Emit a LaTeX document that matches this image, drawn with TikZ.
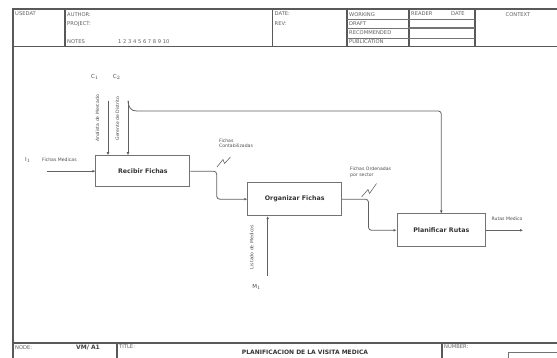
\documentclass[tikz,border=0pt]{standalone}
\usepackage{fontspec}
\setmainfont{DejaVu Sans}
\usetikzlibrary{positioning,arrows.meta}

\begin{document}
\begin{tikzpicture}[x=1pt,y=-1pt,
    frameline/.style={draw=black!65, line width=1.6pt},
    rowline/.style={draw=black!55, line width=0.8pt},
    hdr/.style={font=\fontsize{5.2}{6}\selectfont, text=black!62, inner sep=0pt, anchor=north west},
    activity/.style={draw=black!55, line width=0.9pt, minimum height=32pt, inner sep=0pt,
        font=\fontsize{6.3}{7}\selectfont\bfseries, text=black!80},
    flow/.style={draw=black!62, line width=0.8pt, rounded corners=3pt, -{Latex[length=3pt,width=2.8pt]}},
    lbl/.style={font=\fontsize{4.6}{5.6}\selectfont, text=black!70, inner sep=0pt, align=left},
    tag/.style={font=\fontsize{5.5}{6}\selectfont, text=black!70, inner sep=0pt},
    squig/.style={draw=black!60, line width=0.6pt}
]
\useasboundingbox (0,0) rectangle (557,358);

% frame and header
\draw[frameline] (557,9.3) -- (13,9.3) -- (13,358);
\draw[frameline] (13,46.7) -- (557,46.7);
\draw[frameline] (13,343) -- (557,343);
\foreach \xx in {65,272.5,347,409,475}
    \draw[frameline] (\xx,9.3) -- (\xx,46.7);
\foreach \yy in {19.3,28.7,38}
    \draw[rowline] (347,\yy) -- (475,\yy);
\draw[rowline] (409,27) -- (475,27);
\foreach \xx in {117,442}
    \draw[frameline] (\xx,343) -- (\xx,358);
\draw[rowline] (508,358) -- (508,352) -- (557,352);

\node[hdr] (usedat) at (15,11.5) {USEDAT};
\node[hdr] (author) at (67,12) {AUTHOR:};
\node[hdr] (project) at (67,21.5) {PROJECT:};
\node[hdr] (notes) at (67,39.5) {NOTES};
\node[hdr] (nums) at (118,39.5) {1 2 3 4 5 6 7 8 9 10};
\node[hdr] (date) at (274.5,12) {DATE:};
\node[hdr] (rev) at (274.5,21.5) {REV:};
\node[hdr] (working) at (349,12) {WORKING};
\node[hdr] (draft) at (349,21.5) {DRAFT};
\node[hdr] (recom) at (349,30.5) {RECOMMENDED};
\node[hdr] (publ) at (349,39.5) {PUBLICATION};
\node[hdr] (reader) at (411,12) {READER};
\node[hdr] (rdate) at (451,12) {DATE};
\node[hdr, anchor=north] (context) at (518,12) {CONTEXT};
\node[hdr] (nodelbl) at (15,345) {NODE:};
\node[hdr, font=\fontsize{6}{7}\selectfont\bfseries, text=black!75] (nodenum) at (76,344.5) {VM/ A1};
\node[hdr] (titlelbl) at (119,345) {TITLE:};
\node[hdr, anchor=center, font=\fontsize{6}{7}\selectfont\bfseries, text=black!80] (title) at (305,352) {PLANIFICACION DE LA VISITA MEDICA};
\node[hdr] (number) at (444,345) {NUMBER:};

% activities
\node[activity, minimum width=94pt, minimum height=31pt] (rec) at (142.9,171.2) {Recibir Fichas};
\node[activity, minimum width=94pt, minimum height=33pt] (org) at (294.7,199.2) {Organizar Fichas};
\node[activity, minimum width=88.7pt, minimum height=32.7pt] (plan) at (441.3,230.3) {Planificar Rutas};

% inputs, controls, mechanisms
\coordinate (iin) at (46.7,171.2);
\coordinate (c1top) at (108,100.7);
\coordinate (c2top) at (128,100.7);
\coordinate (branch) at (140,111);
\coordinate (mbot) at (267.7,276);
\coordinate (outend) at (523,230.3);

\node[tag] (ilbl) at (28,160) {I$_1$};
\node[lbl, anchor=west] (ifm) at (42,160) {Fichas Medicas};
\node[tag] (c1lbl) at (95,77) {C$_1$};
\node[tag] (c2lbl) at (116.7,77) {C$_2$};
\node[lbl, rotate=90] (anam) at (97.5,118.5) {Analista de Mercado};
\node[lbl, rotate=90] (gdis) at (117.5,118.5) {Gerente de Distrito};
\node[tag] (mlbl) at (256.7,287) {M$_1$};
\node[lbl, rotate=90] (lmed) at (251.7,247) {Listado de Medicos};
\node[lbl, anchor=west] (rmed) at (491.5,219) {Rutas Medico};
\node[lbl, anchor=south west] (fcon) at (219,148) {Fichas\\Contabilizadas};
\node[lbl, anchor=south west] (ford) at (350,177.5) {Fichas Ordenadas\\por sector};

\draw[flow] (iin) -- (rec.west);
\draw[flow] (c1top) -- (c1top |- rec.north);
\draw[flow] (c2top) -- (c2top |- rec.north);
\draw[flow] (c2top) .. controls (128.5,108) and (131,111) .. (branch) -- (plan.north |- branch) -- (plan.north);
\draw[flow] (rec.east) -- (216.7,171.2) -- (216.7,199.2) -- (org.west);
\draw[flow] (org.east) -- (368.5,199.2) -- (368.5,230.3) -- (plan.west);
\draw[flow] (mbot) -- (mbot |- org.south);
\draw[flow] (plan.east) -- (outend);

% squiggles
\draw[squig] (217,167) -- (223,159.5) -- (224.5,163.5) -- (230.5,157);
\draw[squig] (361.5,197) -- (368,189.5) -- (369.5,193.5) -- (376.5,183.5);
\end{tikzpicture}
\end{document}
